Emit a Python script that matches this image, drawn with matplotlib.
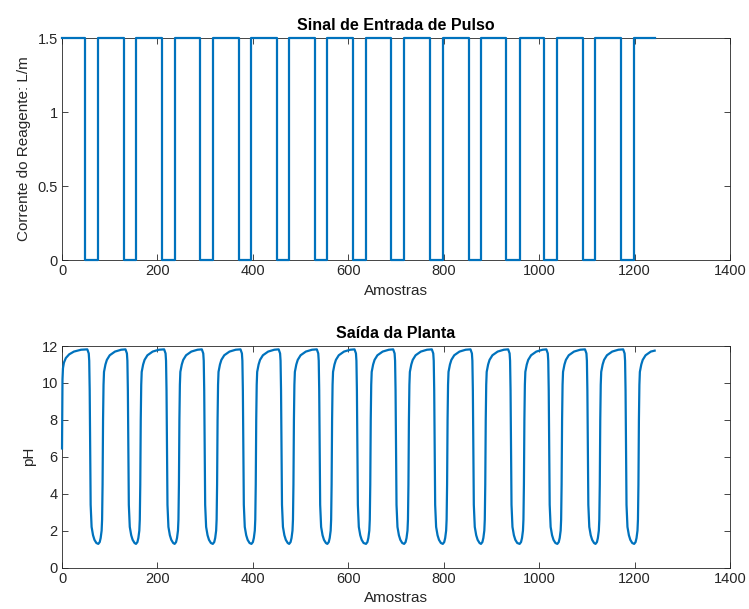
import matplotlib
matplotlib.use('Agg')
import matplotlib.pyplot as plt
from matplotlib import font_manager

# pulse input: sample where the reagent flow drops to 0 and where it returns to 1.5
pulse_high = 1.5
drop_samples = [49, 129, 210, 289, 370, 450, 530, 609, 690, 771, 852, 931, 1011, 1092, 1172]
rise_samples = [76, 155, 236, 316, 397, 476, 556, 637, 717, 798, 878, 959, 1038, 1118, 1199]
last_sample = 1242

# plant output (pH)
ph_x = [0, 1, 2, 4, 8, 15, 25, 40,
        53, 56, 57, 58, 59, 60, 62, 65, 68, 72, 76, 79, 81, 83, 84, 85, 86, 87, 88, 91, 94, 100, 111, 124,
        133, 136, 137, 138, 139, 140, 142, 145, 148, 152, 155, 158, 160, 162, 163, 164, 165, 166, 167, 170, 173, 179, 190, 203,
        214, 217, 218, 219, 220, 221, 223, 226, 229, 233, 236, 239, 241, 243, 244, 245, 246, 247, 248, 251, 254, 260, 271, 284,
        293, 296, 297, 298, 299, 300, 302, 305, 308, 312, 316, 319, 321, 323, 324, 325, 326, 327, 328, 331, 334, 340, 351, 364,
        374, 377, 378, 379, 380, 381, 383, 386, 389, 393, 397, 400, 402, 404, 405, 406, 407, 408, 409, 412, 415, 421, 432, 445,
        454, 457, 458, 459, 460, 461, 463, 466, 469, 473, 476, 479, 481, 483, 484, 485, 486, 487, 488, 491, 494, 500, 511, 524,
        534, 537, 538, 539, 540, 541, 543, 546, 549, 553, 556, 559, 561, 563, 564, 565, 566, 567, 568, 571, 574, 580, 591, 604,
        613, 616, 617, 618, 619, 620, 622, 625, 628, 632, 637, 640, 642, 644, 645, 646, 647, 648, 649, 652, 655, 661, 672, 685,
        694, 697, 698, 699, 700, 701, 703, 706, 709, 713, 717, 720, 722, 724, 725, 726, 727, 728, 729, 732, 735, 741, 752, 765,
        775, 778, 779, 780, 781, 782, 784, 787, 790, 794, 798, 801, 803, 805, 806, 807, 808, 809, 810, 813, 816, 822, 833, 846,
        856, 859, 860, 861, 862, 863, 865, 868, 871, 875, 878, 881, 883, 885, 886, 887, 888, 889, 890, 893, 896, 902, 913, 926,
        935, 938, 939, 940, 941, 942, 944, 947, 950, 954, 959, 962, 964, 966, 967, 968, 969, 970, 971, 974, 977, 983, 994, 1007,
        1015, 1018, 1019, 1020, 1021, 1022, 1024, 1027, 1030, 1034, 1038, 1041, 1043, 1045, 1046, 1047, 1048, 1049, 1050, 1053, 1056, 1062, 1073, 1086,
        1096, 1099, 1100, 1101, 1102, 1103, 1105, 1108, 1111, 1115, 1118, 1121, 1123, 1125, 1126, 1127, 1128, 1129, 1130, 1133, 1136, 1142, 1153, 1166,
        1176, 1179, 1180, 1181, 1182, 1183, 1185, 1188, 1191, 1195, 1199, 1202, 1204, 1206, 1207, 1208, 1209, 1210, 1211, 1214, 1217, 1223, 1234, 1242]
ph_y = [6.45, 10.2, 10.8, 11.1, 11.35, 11.55, 11.7, 11.8,
        11.82, 11.6, 11.2, 9.6, 6.5, 3.4, 2.2, 1.75, 1.5, 1.33, 1.28, 1.38, 1.6, 2.0, 2.6, 4.5, 8.0, 9.9, 10.6, 11.0, 11.25, 11.5, 11.7, 11.8,
        11.82, 11.6, 11.2, 9.6, 6.5, 3.4, 2.2, 1.75, 1.5, 1.33, 1.28, 1.38, 1.6, 2.0, 2.6, 4.5, 8.0, 9.9, 10.6, 11.0, 11.25, 11.5, 11.7, 11.8,
        11.82, 11.6, 11.2, 9.6, 6.5, 3.4, 2.2, 1.75, 1.5, 1.33, 1.28, 1.38, 1.6, 2.0, 2.6, 4.5, 8.0, 9.9, 10.6, 11.0, 11.25, 11.5, 11.7, 11.8,
        11.82, 11.6, 11.2, 9.6, 6.5, 3.4, 2.2, 1.75, 1.5, 1.33, 1.28, 1.38, 1.6, 2.0, 2.6, 4.5, 8.0, 9.9, 10.6, 11.0, 11.25, 11.5, 11.7, 11.8,
        11.82, 11.6, 11.2, 9.6, 6.5, 3.4, 2.2, 1.75, 1.5, 1.33, 1.28, 1.38, 1.6, 2.0, 2.6, 4.5, 8.0, 9.9, 10.6, 11.0, 11.25, 11.5, 11.7, 11.8,
        11.82, 11.6, 11.2, 9.6, 6.5, 3.4, 2.2, 1.75, 1.5, 1.33, 1.28, 1.38, 1.6, 2.0, 2.6, 4.5, 8.0, 9.9, 10.6, 11.0, 11.25, 11.5, 11.7, 11.8,
        11.82, 11.6, 11.2, 9.6, 6.5, 3.4, 2.2, 1.75, 1.5, 1.33, 1.28, 1.38, 1.6, 2.0, 2.6, 4.5, 8.0, 9.9, 10.6, 11.0, 11.25, 11.5, 11.7, 11.8,
        11.82, 11.6, 11.2, 9.6, 6.5, 3.4, 2.2, 1.75, 1.5, 1.33, 1.28, 1.38, 1.6, 2.0, 2.6, 4.5, 8.0, 9.9, 10.6, 11.0, 11.25, 11.5, 11.7, 11.8,
        11.82, 11.6, 11.2, 9.6, 6.5, 3.4, 2.2, 1.75, 1.5, 1.33, 1.28, 1.38, 1.6, 2.0, 2.6, 4.5, 8.0, 9.9, 10.6, 11.0, 11.25, 11.5, 11.7, 11.8,
        11.82, 11.6, 11.2, 9.6, 6.5, 3.4, 2.2, 1.75, 1.5, 1.33, 1.28, 1.38, 1.6, 2.0, 2.6, 4.5, 8.0, 9.9, 10.6, 11.0, 11.25, 11.5, 11.7, 11.8,
        11.82, 11.6, 11.2, 9.6, 6.5, 3.4, 2.2, 1.75, 1.5, 1.33, 1.28, 1.38, 1.6, 2.0, 2.6, 4.5, 8.0, 9.9, 10.6, 11.0, 11.25, 11.5, 11.7, 11.8,
        11.82, 11.6, 11.2, 9.6, 6.5, 3.4, 2.2, 1.75, 1.5, 1.33, 1.28, 1.38, 1.6, 2.0, 2.6, 4.5, 8.0, 9.9, 10.6, 11.0, 11.25, 11.5, 11.7, 11.8,
        11.82, 11.6, 11.2, 9.6, 6.5, 3.4, 2.2, 1.75, 1.5, 1.33, 1.28, 1.38, 1.6, 2.0, 2.6, 4.5, 8.0, 9.9, 10.6, 11.0, 11.25, 11.5, 11.7, 11.8,
        11.82, 11.6, 11.2, 9.6, 6.5, 3.4, 2.2, 1.75, 1.5, 1.33, 1.28, 1.38, 1.6, 2.0, 2.6, 4.5, 8.0, 9.9, 10.6, 11.0, 11.25, 11.5, 11.7, 11.8,
        11.82, 11.6, 11.2, 9.6, 6.5, 3.4, 2.2, 1.75, 1.5, 1.33, 1.28, 1.38, 1.6, 2.0, 2.6, 4.5, 8.0, 9.9, 10.6, 11.0, 11.25, 11.5, 11.7, 11.75]

xticks = [0, 200, 400, 600, 800, 1000, 1200, 1400]
yticks_top = [0, 0.5, 1, 1.5]
yticks_bottom = [0, 2, 4, 6, 8, 10, 12]

installed = {f.name for f in font_manager.fontManager.ttflist}
narrow = 'Liberation Sans Narrow' if 'Liberation Sans Narrow' in installed else 'Liberation Sans'
plt.rcParams['font.family'] = [narrow, 'DejaVu Sans']

blue = '#0072BD'
dark = '#262626'

# build the step outline of the pulse signal
step_x = [0]
step_y = [pulse_high]
for d, r in zip(drop_samples, rise_samples):
    step_x += [d, d, r, r]
    step_y += [pulse_high, 0, 0, pulse_high]
step_x.append(last_sample)
step_y.append(pulse_high)

fig = plt.figure(figsize=(7.49, 6.09), dpi=100)
ax1 = fig.add_axes([0.0828, 0.573, 0.8919, 0.3645])
ax2 = fig.add_axes([0.0828, 0.0681, 0.8919, 0.3637])

ax1.plot(step_x, step_y, color=blue, linewidth=1.6, clip_on=False, zorder=3)
ax1.set_xlim(0, 1400)
ax1.set_ylim(0, 1.5)
ax1.set_yticks(yticks_top)
ax1.set_yticklabels(['0', '0.5', '1', '1.5'])
ax1.set_title('Sinal de Entrada de Pulso', fontsize=11.5, fontweight='bold', color='black', pad=6)
ax1.set_ylabel('Corrente do Reagente: L/m', fontsize=11, color=dark, labelpad=5)

ax2.plot(ph_x, ph_y, color=blue, linewidth=1.6, clip_on=False, zorder=3)
ax2.set_xlim(0, 1400)
ax2.set_ylim(0, 12)
ax2.set_yticks(yticks_bottom)
ax2.set_title('Saída da Planta', fontsize=11.5, fontweight='bold', color='black', pad=6)
ax2.set_ylabel('pH', fontsize=11, color=dark)

for ax in (ax1, ax2):
    ax.set_xticks(xticks)
    ax.set_xlabel('Amostras', fontsize=11, color=dark, labelpad=4)
    ax.tick_params(direction='in', top=True, right=True, length=4, width=0.6,
                   colors=dark, labelsize=10.5, labelcolor=dark, pad=3)
    for s in ax.spines.values():
        s.set_color(dark)
        s.set_linewidth(0.6)

plt.savefig('out.png', dpi=100)
